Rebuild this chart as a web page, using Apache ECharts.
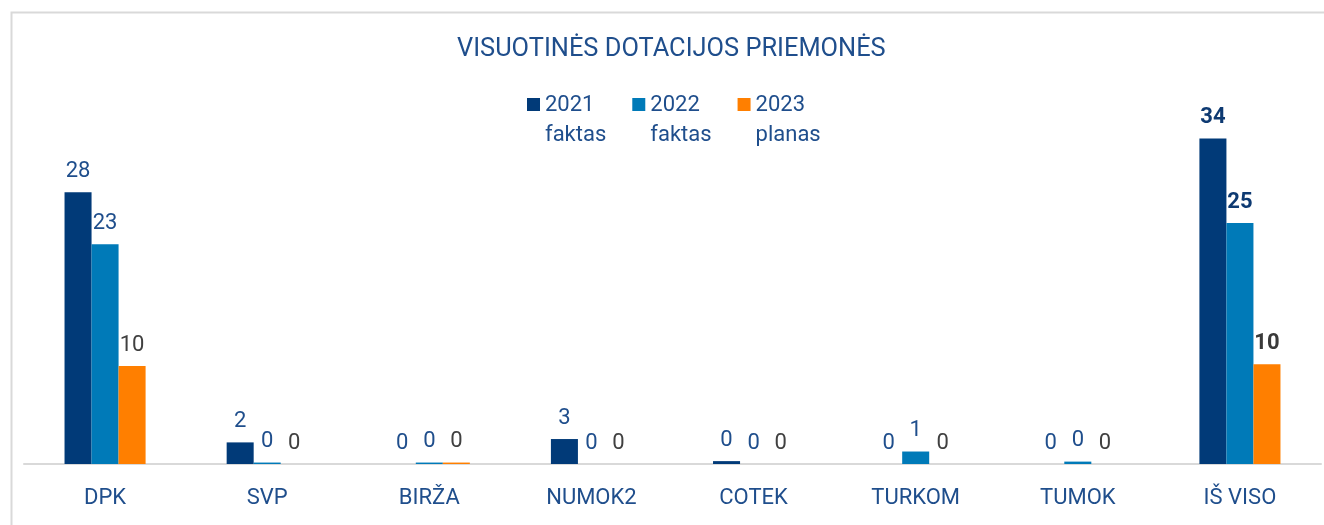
<!DOCTYPE html>
<html>
<head>
<meta charset="utf-8">
<title>Visuotinės dotacijos priemonės</title>
<script src="https://cdn.jsdelivr.net/npm/echarts@6/dist/echarts.min.js"></script>
<style>
  html, body { margin: 0; padding: 0; background: #fff; }
  #chart { width: 1324px; height: 525px; }
</style>
</head>
<body>
<div id="chart"></div>
<script>
// kategorijos
const categories = ["DPK", "SVP", "BIRŽA", "NUMOK2", "COTEK", "TURKOM", "TUMOK", "IŠ VISO"];
// reikšmės (skaičiuota nuo paveikslo)
const fact2021 = [28.3, 2.25, 0, 2.6, 0.3, 0, 0, 33.9];
const fact2022 = [22.9, 0.15, 0.15, 0, 0, 1.3, 0.25, 25.1];
const plan2023 = [10.2, 0, 0.15, 0, 0, 0, 0, 10.4];
const seriesNames = ["2021\nfaktas", "2022\nfaktas", "2023\nplanas"];

const navyText = "#1F4E8C";
const grayText = "#404040";
const barColors = ["#013A78", "#007AB8", "#FF7F00"];
const labelColors = [navyText, navyText, grayText];
const boldColors = ["#0E3A72", "#0E3A72", "#3A3A3A"];

const chart = echarts.init(document.getElementById("chart"));

function makeSeries(name, values, index) {
  return {
    name: name,
    type: "bar",
    barGap: "0%",
    barCategoryGap: "50%",
    itemStyle: { color: barColors[index] },
    label: {
      show: true,
      position: "top",
      distance: 10,
      fontFamily: "Roboto",
      fontSize: 22,
      color: labelColors[index],
      formatter: (p) => Math.round(p.value),
    },
    // paskutinis stulpelis (IŠ VISO) paryškintas
    data: values.map((v, i) => {
      if (i === values.length - 1) {
        return {
          value: v,
          label: { fontWeight: "bold", color: boldColors[index] },
        };
      }
      return v;
    }),
  };
}

const option = {
  animation: false,
  textStyle: { fontFamily: "Roboto" },
  title: {
    text: "VISUOTINĖS DOTACIJOS PRIEMONĖS",
    left: 457,
    top: 37,
    padding: 0,
    textStyle: {
      fontFamily: "Roboto",
      fontSize: 25.4,
      fontWeight: "normal",
      color: navyText,
    },
  },
  legend: {
    data: seriesNames,
    left: 527,
    top: 90,
    padding: 0,
    itemWidth: 13,
    itemHeight: 44,
    itemGap: 26,
    // kvadratėlis viršuje, kad būtų ties pirma teksto eilute
    icon: "path://M0,0L13,0L13,13L0,13Z M0,44L0,44",
    textStyle: {
      fontFamily: "Roboto",
      fontSize: 22,
      lineHeight: 30,
      color: navyText,
    },
  },
  graphic: [
    {
      type: "rect",
      left: 9,
      top: 10,
      shape: { x: 0, y: 0, width: 1330, height: 540 },
      style: { fill: "none", stroke: "#D9D9D9", lineWidth: 2 },
      z: -1,
    },
  ],
  grid: {
    left: 24,
    right: 3,
    top: 80,
    bottom: 61,
    containLabel: false,
  },
  xAxis: {
    type: "category",
    data: categories,
    axisTick: { show: false },
    axisLine: { lineStyle: { color: "#D9D9D9", width: 2 } },
    axisLabel: {
      margin: 23,
      fontFamily: "Roboto",
      fontSize: 22,
      color: navyText,
      interval: 0,
    },
  },
  yAxis: {
    type: "value",
    min: 0,
    max: 40,
    show: false,
    splitLine: { show: false },
  },
  series: [
    makeSeries(seriesNames[0], fact2021, 0),
    makeSeries(seriesNames[1], fact2022, 1),
    makeSeries(seriesNames[2], plan2023, 2),
  ],
};

chart.setOption(option);
</script>
</body>
</html>
